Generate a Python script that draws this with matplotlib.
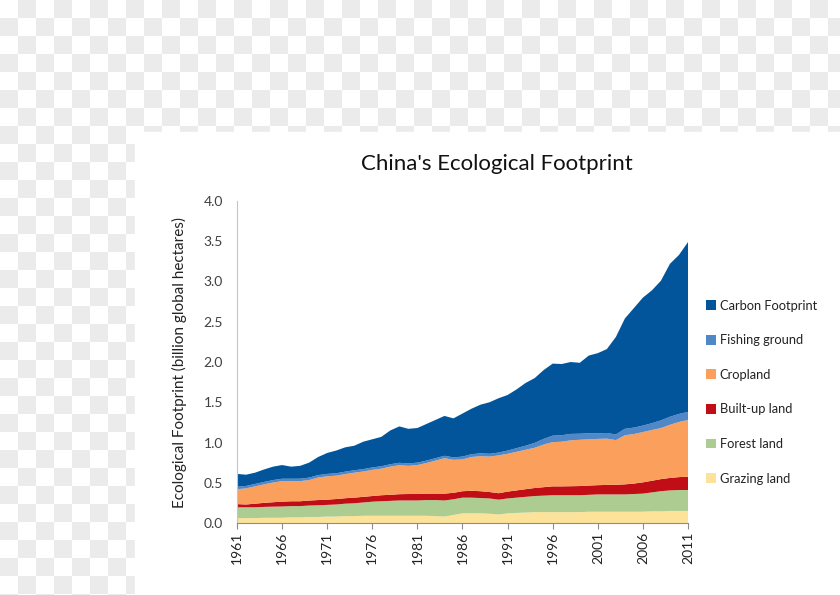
import numpy as np
import matplotlib
matplotlib.use("Agg")
import matplotlib.pyplot as plt
from matplotlib.patches import Rectangle

plt.rcParams['font.family'] = ['Lato', 'DejaVu Sans']

years = list(range(1961, 2012))

grazing = [0.06, 0.06, 0.06, 0.065, 0.065, 0.065, 0.07, 0.07, 0.075, 0.075,
           0.08, 0.08, 0.085, 0.085, 0.09, 0.09, 0.09, 0.09, 0.09, 0.09,
           0.09, 0.09, 0.085, 0.08, 0.10, 0.12, 0.12, 0.12, 0.115, 0.105,
           0.12, 0.125, 0.13, 0.135, 0.135, 0.135, 0.135, 0.135, 0.135, 0.14,
           0.14, 0.14, 0.14, 0.14, 0.14, 0.14, 0.145, 0.145, 0.15, 0.15, 0.15]
forest = [0.135, 0.135, 0.135, 0.135, 0.138, 0.14, 0.14, 0.14, 0.142, 0.145,
          0.145, 0.15, 0.155, 0.16, 0.165, 0.175, 0.18, 0.185, 0.19, 0.19,
          0.19, 0.195, 0.2, 0.2, 0.195, 0.195, 0.195, 0.19, 0.19, 0.185,
          0.185, 0.19, 0.195, 0.2, 0.205, 0.21, 0.21, 0.21, 0.21, 0.21,
          0.215, 0.215, 0.215, 0.215, 0.22, 0.225, 0.235, 0.25, 0.255, 0.26, 0.26]
builtup = [0.04, 0.035, 0.045, 0.05, 0.055, 0.06, 0.06, 0.06, 0.062, 0.065,
           0.065, 0.068, 0.068, 0.07, 0.07, 0.07, 0.075, 0.075, 0.078, 0.08,
           0.08, 0.08, 0.08, 0.085, 0.08, 0.08, 0.085, 0.085, 0.08, 0.08,
           0.085, 0.09, 0.095, 0.10, 0.105, 0.11, 0.11, 0.112, 0.114, 0.115,
           0.115, 0.118, 0.12, 0.125, 0.13, 0.14, 0.145, 0.15, 0.155, 0.16, 0.165]
cropland = [0.185, 0.20, 0.215, 0.23, 0.245, 0.255, 0.25, 0.25, 0.255, 0.28,
            0.29, 0.29, 0.30, 0.31, 0.315, 0.325, 0.33, 0.35, 0.36, 0.35,
            0.36, 0.38, 0.41, 0.44, 0.41, 0.395, 0.42, 0.435, 0.44, 0.47,
            0.47, 0.48, 0.49, 0.50, 0.53, 0.55, 0.555, 0.57, 0.575, 0.575,
            0.575, 0.575, 0.555, 0.61, 0.615, 0.625, 0.63, 0.635, 0.66, 0.685, 0.705]
fishing = [0.03] * 25 + [0.035, 0.035, 0.035, 0.035, 0.035,
           0.04, 0.045, 0.05, 0.06, 0.07, 0.08, 0.08, 0.08, 0.075, 0.075,
           0.07, 0.07, 0.07, 0.08, 0.08, 0.08, 0.085, 0.095, 0.10, 0.10, 0.10]
carbon = [0.16, 0.14, 0.14, 0.155, 0.167, 0.17, 0.15, 0.16, 0.186, 0.225,
          0.26, 0.282, 0.302, 0.305, 0.34, 0.35, 0.365, 0.42, 0.452, 0.43,
          0.43, 0.455, 0.475, 0.495, 0.485, 0.535, 0.565, 0.605, 0.64, 0.675,
          0.69, 0.73, 0.78, 0.805, 0.855, 0.895, 0.885, 0.893, 0.881, 0.965,
          0.995, 1.042, 1.21, 1.37, 1.485, 1.59, 1.65, 1.735, 1.90, 1.975, 2.11]

labels = ['Grazing land', 'Forest land', 'Built-up land', 'Cropland',
          'Fishing ground', 'Carbon Footprint']
colors = ['#fde39a', '#adcc91', '#c00d16', '#fa9f5c', '#4f87c7', '#02559a']

fig = plt.figure(figsize=(8.4, 5.95), dpi=100)

# checkered backdrop with the white card on top
bg = fig.add_axes([0, 0, 1, 1], zorder=-10)
ii, jj = np.mgrid[0:34, 0:47]
checker = ((ii + jj) % 2).astype(float)
bg.imshow(checker, cmap=matplotlib.colors.ListedColormap(['#ffffff', '#ebebeb']),
          extent=(0, 47 * 18, 34 * 18, 0), interpolation='nearest')
bg.add_patch(Rectangle((135, 132), 840, 600, color='white'))
bg.set_xlim(0, 840)
bg.set_ylim(595, 0)
bg.axis('off')

ax = fig.add_axes([237 / 840, 1 - 523 / 595, 451 / 840, 322 / 595])
ax.patch.set_alpha(0)
ax.stackplot(years, grazing, forest, builtup, cropland, fishing, carbon,
             colors=colors, labels=labels, linewidth=0)

ax.set_xlim(1961, 2011)
ax.set_ylim(0, 4.0)
ax.set_xticks(range(1961, 2012, 5))
ax.set_xticklabels([str(y) for y in range(1961, 2012, 5)], rotation=90,
                   fontsize=10, color='#222222')
ax.set_yticks(np.arange(0, 4.01, 0.5))
ax.set_yticklabels(['%.1f' % v for v in np.arange(0, 4.01, 0.5)],
                   fontsize=10, color='#404040')
ax.tick_params(axis='y', length=0, pad=10)
ax.tick_params(axis='x', length=4, color='#8c8c8c', direction='out', pad=2)
for s in ['top', 'right']:
    ax.spines[s].set_visible(False)
ax.spines['left'].set_color('#b4c7e7')
ax.spines['bottom'].set_color('#8c8c8c')
ax.set_ylabel('Ecological Footprint (billion global hectares)', fontsize=11,
              color='#222222', labelpad=12)

fig.text(497 / 840, 1 - 164 / 595, "China's Ecological Footprint",
         ha='center', va='center', fontsize=16, color='#111111')

handles, labs = ax.get_legend_handles_labels()
leg = fig.legend(handles[::-1], labs[::-1], loc='upper left',
                 bbox_to_anchor=(694 / 840, 1 - 288 / 595), frameon=False,
                 fontsize=9.3, handlelength=0.8, handleheight=0.8,
                 labelspacing=1.75, handletextpad=0.3, labelcolor='#222222')

fig.savefig('out.png', dpi=100)
